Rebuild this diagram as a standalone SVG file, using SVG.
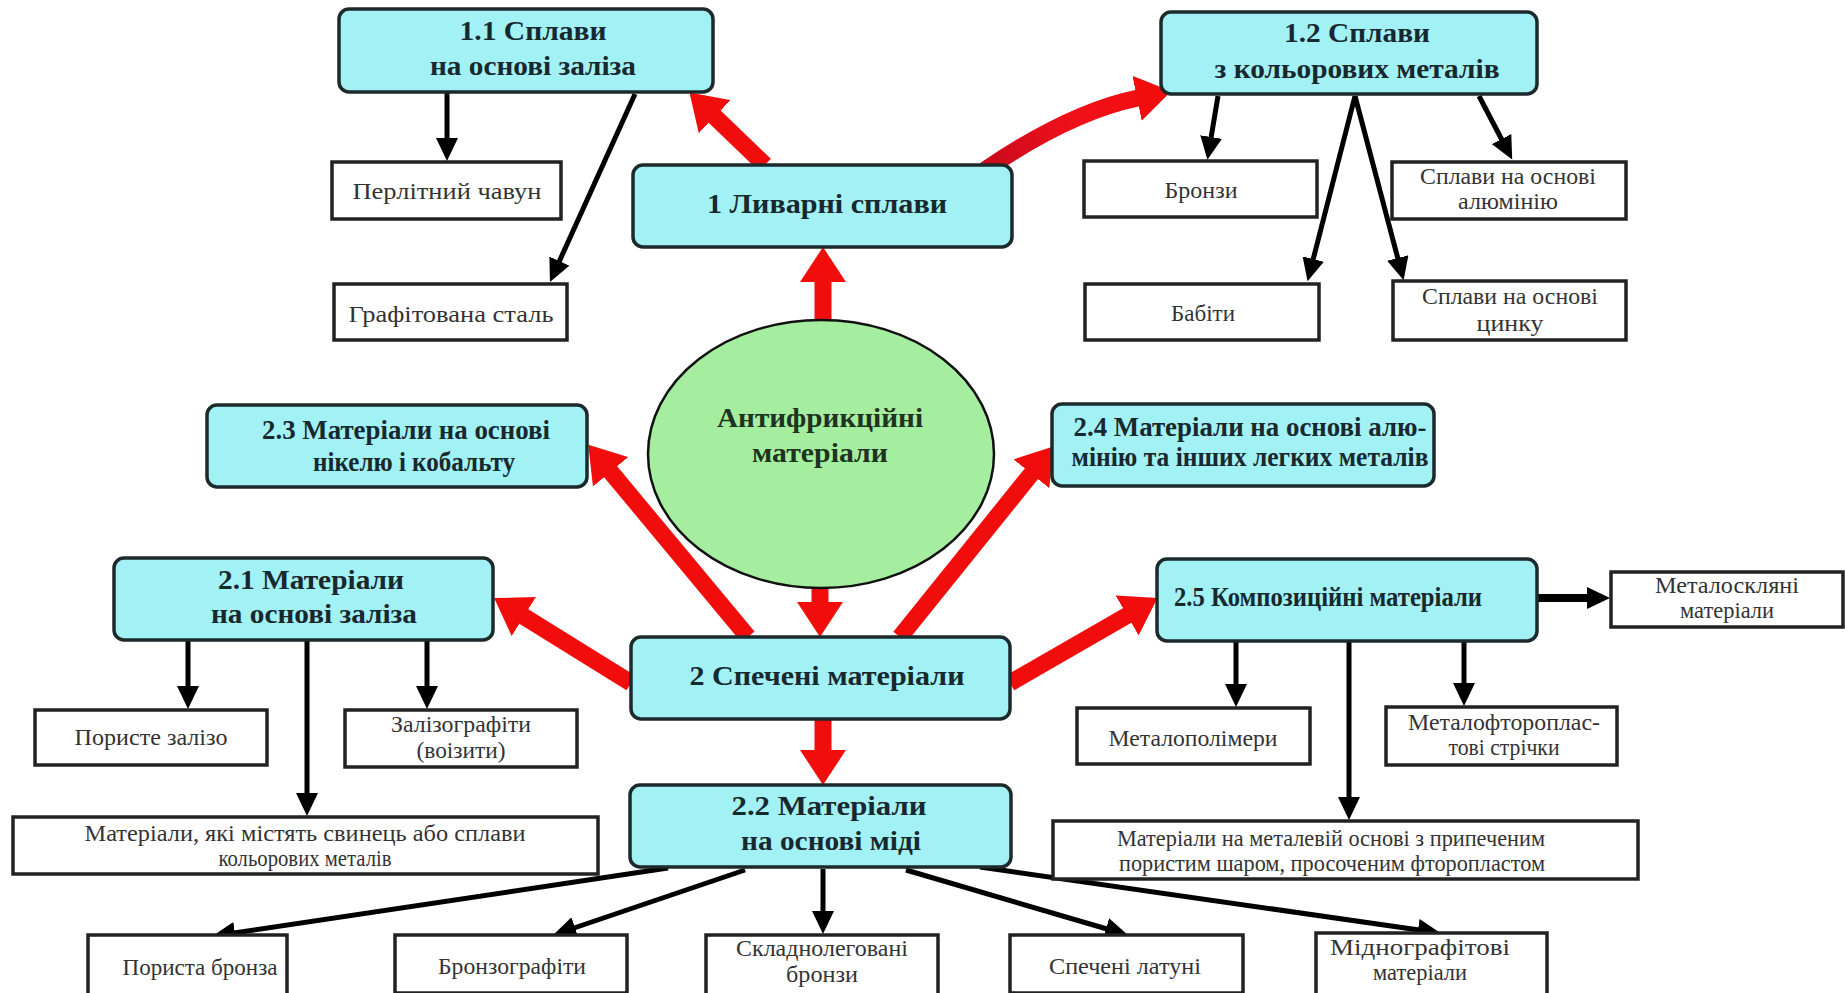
<svg xmlns="http://www.w3.org/2000/svg" width="1845" height="993" viewBox="0 0 1845 993">
<style>
.bb{fill:#a2f1f4;stroke:#1c2a2c;stroke-width:3.5}
.wb{fill:#ffffff;stroke:#222;stroke-width:3.5}
.bt{font-family:"Liberation Serif",serif;font-weight:bold;font-size:27px;fill:#17282e;text-anchor:middle}
.wt{font-family:"Liberation Serif",serif;font-size:23px;fill:#333;text-anchor:middle}
.ct{font-family:"Liberation Serif",serif;font-weight:bold;font-size:27px;fill:#1e3320;text-anchor:middle}
.red{fill:none;stroke:#f20d0d;stroke-width:17;marker-end:url(#rh)}
.blk{fill:none;stroke:#000;stroke-width:5;marker-end:url(#bh)}
</style>
<defs>
<linearGradient id="rg" gradientUnits="userSpaceOnUse" x1="985" y1="170" x2="1170" y2="92">
<stop offset="0" stop-color="#c80a1e"/><stop offset="0.5" stop-color="#f0101a"/><stop offset="1" stop-color="#f20d0d"/>
</linearGradient>
<marker id="rh" markerUnits="userSpaceOnUse" markerWidth="36" markerHeight="46" refX="1" refY="23" orient="auto">
<path d="M0,0 L35,23 L0,46 Z" fill="#f20d0d"/>
</marker>
<marker id="bh" markerUnits="userSpaceOnUse" markerWidth="24" markerHeight="22" refX="1" refY="11" orient="auto">
<path d="M0,0 L23,11 L0,22 Z" fill="#000"/>
</marker>
</defs>
<rect width="1845" height="993" fill="#fff"/>
<g id="connectors">
<line class="red" x1="765" y1="165" x2="714" y2="116"/>
<path class="red" d="M985,170 Q1070,112 1138,98" style="stroke:url(#rg)"/>
<line class="red" x1="823" y1="322" x2="823" y2="281"/>
<line class="red" x1="820" y1="586" x2="820" y2="603"/>
<line class="red" x1="748" y1="637" x2="610" y2="471"/>
<line class="red" x1="900" y1="637" x2="1032" y2="473"/>
<line class="red" x1="631" y1="683" x2="523" y2="616"/>
<line class="red" x1="1010" y1="683" x2="1128" y2="615"/>
<line class="red" x1="823" y1="719" x2="823" y2="751"/>
<line class="blk" x1="447" y1="92" x2="447" y2="139"/>
<line class="blk" x1="635" y1="94" x2="559" y2="262"/>
<line class="blk" x1="1218" y1="96" x2="1211" y2="138"/>
<line class="blk" x1="1355" y1="96" x2="1313" y2="260"/>
<line class="blk" x1="1355" y1="96" x2="1398" y2="259"/>
<line class="blk" x1="1479" y1="96" x2="1502" y2="140"/>
<line class="blk" x1="188" y1="640" x2="188" y2="687"/>
<line class="blk" x1="307" y1="640" x2="307" y2="794"/>
<line class="blk" x1="427" y1="640" x2="427" y2="687"/>
<line class="blk" x1="1236" y1="641" x2="1236" y2="685"/>
<line class="blk" x1="1349" y1="641" x2="1349" y2="798"/>
<line class="blk" x1="1464" y1="641" x2="1464" y2="684"/>
<line class="blk" x1="1537" y1="598" x2="1588" y2="598" style="stroke-width:8"/>
<line class="blk" x1="668" y1="868" x2="234" y2="933"/>
<line class="blk" x1="745" y1="870" x2="574" y2="928"/>
<line class="blk" x1="823" y1="869" x2="823" y2="912"/>
<line class="blk" x1="906" y1="870" x2="1107" y2="929"/>
<line class="blk" x1="980" y1="867" x2="1419" y2="930"/>
</g>
<g id="center">
<ellipse cx="821" cy="454" rx="173" ry="134" fill="#a6ee9f" stroke="#111" stroke-width="2.5"/>
<text class="ct" x="820" y="427" textLength="206" lengthAdjust="spacingAndGlyphs">Антифрикційні</text>
<text class="ct" x="820" y="462" textLength="136" lengthAdjust="spacingAndGlyphs">матеріали</text>
</g>
<g id="n1_1"><rect class="bb" x="339" y="9" width="374" height="83" rx="10"/>
<text class="bt" x="533" y="40" textLength="147" lengthAdjust="spacingAndGlyphs">1.1  Сплави</text><text class="bt" x="533" y="75" textLength="206" lengthAdjust="spacingAndGlyphs">на основі заліза</text></g>
<g id="n1_2"><rect class="bb" x="1161" y="12" width="376" height="82" rx="10"/>
<text class="bt" x="1357" y="42" textLength="146" lengthAdjust="spacingAndGlyphs">1.2 Сплави</text><text class="bt" x="1357" y="78" textLength="285" lengthAdjust="spacingAndGlyphs">з кольорових металів</text></g>
<g id="n1"><rect class="bb" x="633" y="165" width="379" height="82" rx="10"/>
<text class="bt" x="827" y="213" textLength="240" lengthAdjust="spacingAndGlyphs">1  Ливарні сплави</text></g>
<g id="n2_3"><rect class="bb" x="207" y="405" width="380" height="82" rx="10"/>
<text class="bt" x="406" y="439" textLength="288" lengthAdjust="spacingAndGlyphs">2.3 Матеріали на основі</text><text class="bt" x="414" y="471" textLength="202" lengthAdjust="spacingAndGlyphs">нікелю і кобальту</text></g>
<g id="n2_4"><rect class="bb" x="1052" y="404" width="382" height="82" rx="10"/>
<text class="bt" x="1250" y="436" textLength="353" lengthAdjust="spacingAndGlyphs">2.4  Матеріали на основі алю-</text><text class="bt" x="1250" y="466" textLength="357" lengthAdjust="spacingAndGlyphs">мінію та інших легких металів</text></g>
<g id="n2_1"><rect class="bb" x="114" y="558" width="379" height="82" rx="10"/>
<text class="bt" x="311" y="589" textLength="186" lengthAdjust="spacingAndGlyphs">2.1 Матеріали</text><text class="bt" x="314" y="623" textLength="206" lengthAdjust="spacingAndGlyphs">на основі заліза</text></g>
<g id="n2_5"><rect class="bb" x="1157" y="559" width="380" height="82" rx="10"/>
<text class="bt" x="1328" y="606" textLength="308" lengthAdjust="spacingAndGlyphs">2.5  Композиційні матеріали</text></g>
<g id="n2"><rect class="bb" x="631" y="637" width="379" height="82" rx="10"/>
<text class="bt" x="827" y="685" textLength="275" lengthAdjust="spacingAndGlyphs">2  Спечені матеріали</text></g>
<g id="n2_2"><rect class="bb" x="630" y="785" width="381" height="82" rx="10"/>
<text class="bt" x="829" y="815" textLength="195" lengthAdjust="spacingAndGlyphs">2.2  Матеріали</text><text class="bt" x="831" y="850" textLength="180" lengthAdjust="spacingAndGlyphs">на основі міді</text></g>
<g id="w_perl"><rect class="wb" x="332" y="162" width="229" height="57"/><text class="wt" x="447" y="199" textLength="189" lengthAdjust="spacingAndGlyphs">Перлітний чавун</text></g>
<g id="w_graf"><rect class="wb" x="334" y="284" width="233" height="56"/><text class="wt" x="451" y="322" textLength="205" lengthAdjust="spacingAndGlyphs">Графітована сталь</text></g>
<g id="w_bronzy"><rect class="wb" x="1084" y="161" width="233" height="56"/><text class="wt" x="1201" y="198" textLength="73" lengthAdjust="spacingAndGlyphs">Бронзи</text></g>
<g id="w_al"><rect class="wb" x="1392" y="162" width="234" height="57"/><text class="wt" x="1508" y="184" textLength="176" lengthAdjust="spacingAndGlyphs">Сплави на основі</text><text class="wt" x="1508" y="209" textLength="100" lengthAdjust="spacingAndGlyphs">алюмінію</text></g>
<g id="w_babity"><rect class="wb" x="1085" y="284" width="234" height="56"/><text class="wt" x="1203" y="321" textLength="64" lengthAdjust="spacingAndGlyphs">Бабіти</text></g>
<g id="w_zn"><rect class="wb" x="1393" y="281" width="233" height="59"/><text class="wt" x="1510" y="304" textLength="176" lengthAdjust="spacingAndGlyphs">Сплави на основі</text><text class="wt" x="1510" y="331" textLength="67" lengthAdjust="spacingAndGlyphs">цинку</text></g>
<g id="w_glass"><rect class="wb" x="1611" y="572" width="232" height="55"/><text class="wt" x="1727" y="593" textLength="144" lengthAdjust="spacingAndGlyphs">Металоскляні</text><text class="wt" x="1727" y="618" textLength="94" lengthAdjust="spacingAndGlyphs">матеріали</text></g>
<g id="w_porfe"><rect class="wb" x="35" y="710" width="232" height="55"/><text class="wt" x="151" y="745" textLength="153" lengthAdjust="spacingAndGlyphs">Пористе залізо</text></g>
<g id="w_voiz"><rect class="wb" x="345" y="710" width="232" height="57"/><text class="wt" x="461" y="732" textLength="140" lengthAdjust="spacingAndGlyphs">Залізографіти</text><text class="wt" x="461" y="758" textLength="89" lengthAdjust="spacingAndGlyphs">(воізити)</text></g>
<g id="w_polym"><rect class="wb" x="1077" y="708" width="233" height="56"/><text class="wt" x="1193" y="746" textLength="169" lengthAdjust="spacingAndGlyphs">Металополімери</text></g>
<g id="w_ftor"><rect class="wb" x="1386" y="707" width="231" height="58"/><text class="wt" x="1504" y="730" textLength="192" lengthAdjust="spacingAndGlyphs">Металофтороплас-</text><text class="wt" x="1504" y="755" textLength="111" lengthAdjust="spacingAndGlyphs">тові стрічки</text></g>
<g id="w_pb"><rect class="wb" x="13" y="817" width="585" height="57"/><text class="wt" x="305" y="841" textLength="441" lengthAdjust="spacingAndGlyphs">Матеріали, які містять  свинець або сплави</text><text class="wt" x="305" y="866" textLength="173" lengthAdjust="spacingAndGlyphs">кольорових металів</text></g>
<g id="w_metal"><rect class="wb" x="1053" y="821" width="585" height="58"/><text class="wt" x="1331" y="846" textLength="428" lengthAdjust="spacingAndGlyphs">Матеріали на металевій основі з припеченим</text><text class="wt" x="1332" y="871" textLength="426" lengthAdjust="spacingAndGlyphs">пористим шаром, просоченим фторопластом</text></g>
<g id="w_porbr"><rect class="wb" x="88" y="935" width="199" height="62"/><text class="wt" x="200" y="975" textLength="155" lengthAdjust="spacingAndGlyphs">Пориста бронза</text></g>
<g id="w_brgr"><rect class="wb" x="395" y="935" width="232" height="58"/><text class="wt" x="512" y="974" textLength="148" lengthAdjust="spacingAndGlyphs">Бронзографіти</text></g>
<g id="w_sklad"><rect class="wb" x="706" y="935" width="232" height="62"/><text class="wt" x="822" y="956" textLength="172" lengthAdjust="spacingAndGlyphs">Складнолеговані</text><text class="wt" x="822" y="982" textLength="72" lengthAdjust="spacingAndGlyphs">бронзи</text></g>
<g id="w_lat"><rect class="wb" x="1010" y="935" width="233" height="58"/><text class="wt" x="1125" y="974" textLength="152" lengthAdjust="spacingAndGlyphs">Спечені латуні</text></g>
<g id="w_midn"><rect class="wb" x="1316" y="933" width="231" height="62"/><text class="wt" x="1420" y="955" textLength="180" lengthAdjust="spacingAndGlyphs">Міднографітові</text><text class="wt" x="1420" y="980" textLength="94" lengthAdjust="spacingAndGlyphs">матеріали</text></g>
</svg>
